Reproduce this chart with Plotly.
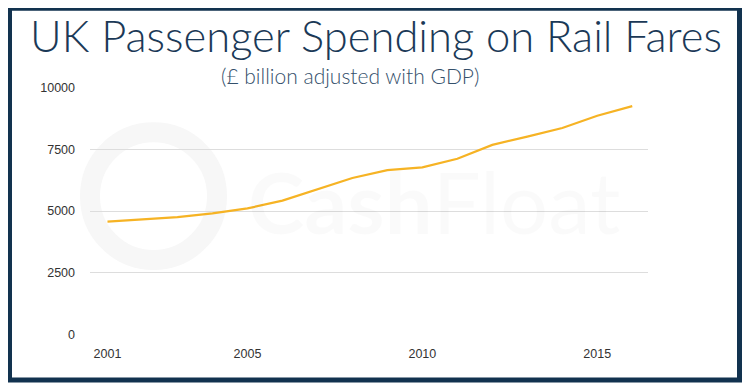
import plotly.graph_objects as go

years = list(range(2001, 2017))
spending = [4566, 4662, 4754, 4903, 5104, 5420, 5867, 6335, 6656, 6764, 7113, 7676, 8010, 8360, 8854, 9244]
x_ticks = [2001, 2005, 2010, 2015]
y_ticks = [0, 2500, 5000, 7500, 10000]

title_text = "UK Passenger Spending on Rail Fares"
subtitle_text = "(£ billion adjusted with GDP)"

# page body has an 8px margin; figure sized to fit the window
OFF = 8
W, H = 742, 382
L, R, T, B = 82, 102, 78.5, 54.7
PW, PH = W - L - R, H - T - B


def px(xs):
    return (xs - OFF - L) / PW


def py(ys):
    return (H - B - (ys - OFF)) / PH


fig = go.Figure()
fig.add_trace(go.Scatter(
    x=years, y=spending, mode="lines",
    line=dict(color="#F6B324", width=2.2),
    hoverinfo="skip", showlegend=False,
))

navy = "#12324F"

shapes = [
    dict(type="circle", xref="paper", yref="paper", layer="below",
         x0=px(90), x1=px(217), y0=py(260), y1=py(132),
         line=dict(color="#F7F7F7", width=20)),
    dict(type="rect", xref="paper", yref="paper", layer="above",
         x0=px(9.5), x1=px(739.5), y0=py(380.5), y1=py(7.5),
         line=dict(color=navy, width=5)),
]

annotations = [
    dict(text=subtitle_text, xref="paper", yref="paper", x=px(350), y=py(75),
         xanchor="center", yanchor="middle", showarrow=False,
         font=dict(family="Lato", size=21, color="#34506B", weight=300)),
    dict(text="<b>Cash</b>Float", xref="paper", yref="paper", x=px(246), y=py(201),
         xanchor="left", yanchor="middle", showarrow=False,
         font=dict(family="Lato", size=85, color="rgba(0,0,0,0.02)")),
]

fig.update_layout(
    width=W, height=H,
    margin=dict(l=L, r=R, t=T, b=B, pad=0),
    paper_bgcolor="white", plot_bgcolor="white",
    title=dict(text=title_text, x=(376 - OFF) / W, xref="container", xanchor="center",
               y=1 - (37 - OFF) / H, yref="container", yanchor="middle",
               font=dict(family="Lato", size=43.5, color="#1B3957", weight=300)),
    shapes=shapes, annotations=annotations,
    xaxis=dict(range=[2000.5, 2016.45], tickvals=x_ticks, showgrid=False,
               zeroline=False, showline=False, ticks="", ticklabelstandoff=9,
               tickformat="d",
               tickfont=dict(family="Liberation Sans", size=12.5, color="#333333"),
               fixedrange=True),
    yaxis=dict(range=[-20, 10020], tickvals=y_ticks, showgrid=True,
               gridcolor="#DDDDDD", gridwidth=1, zeroline=False, showline=False,
               ticks="", ticklabelstandoff=14, tickformat="d",
               tickfont=dict(family="Liberation Sans", size=12.5, color="#333333"),
               fixedrange=True),
)

fig.write_html("out.html")
